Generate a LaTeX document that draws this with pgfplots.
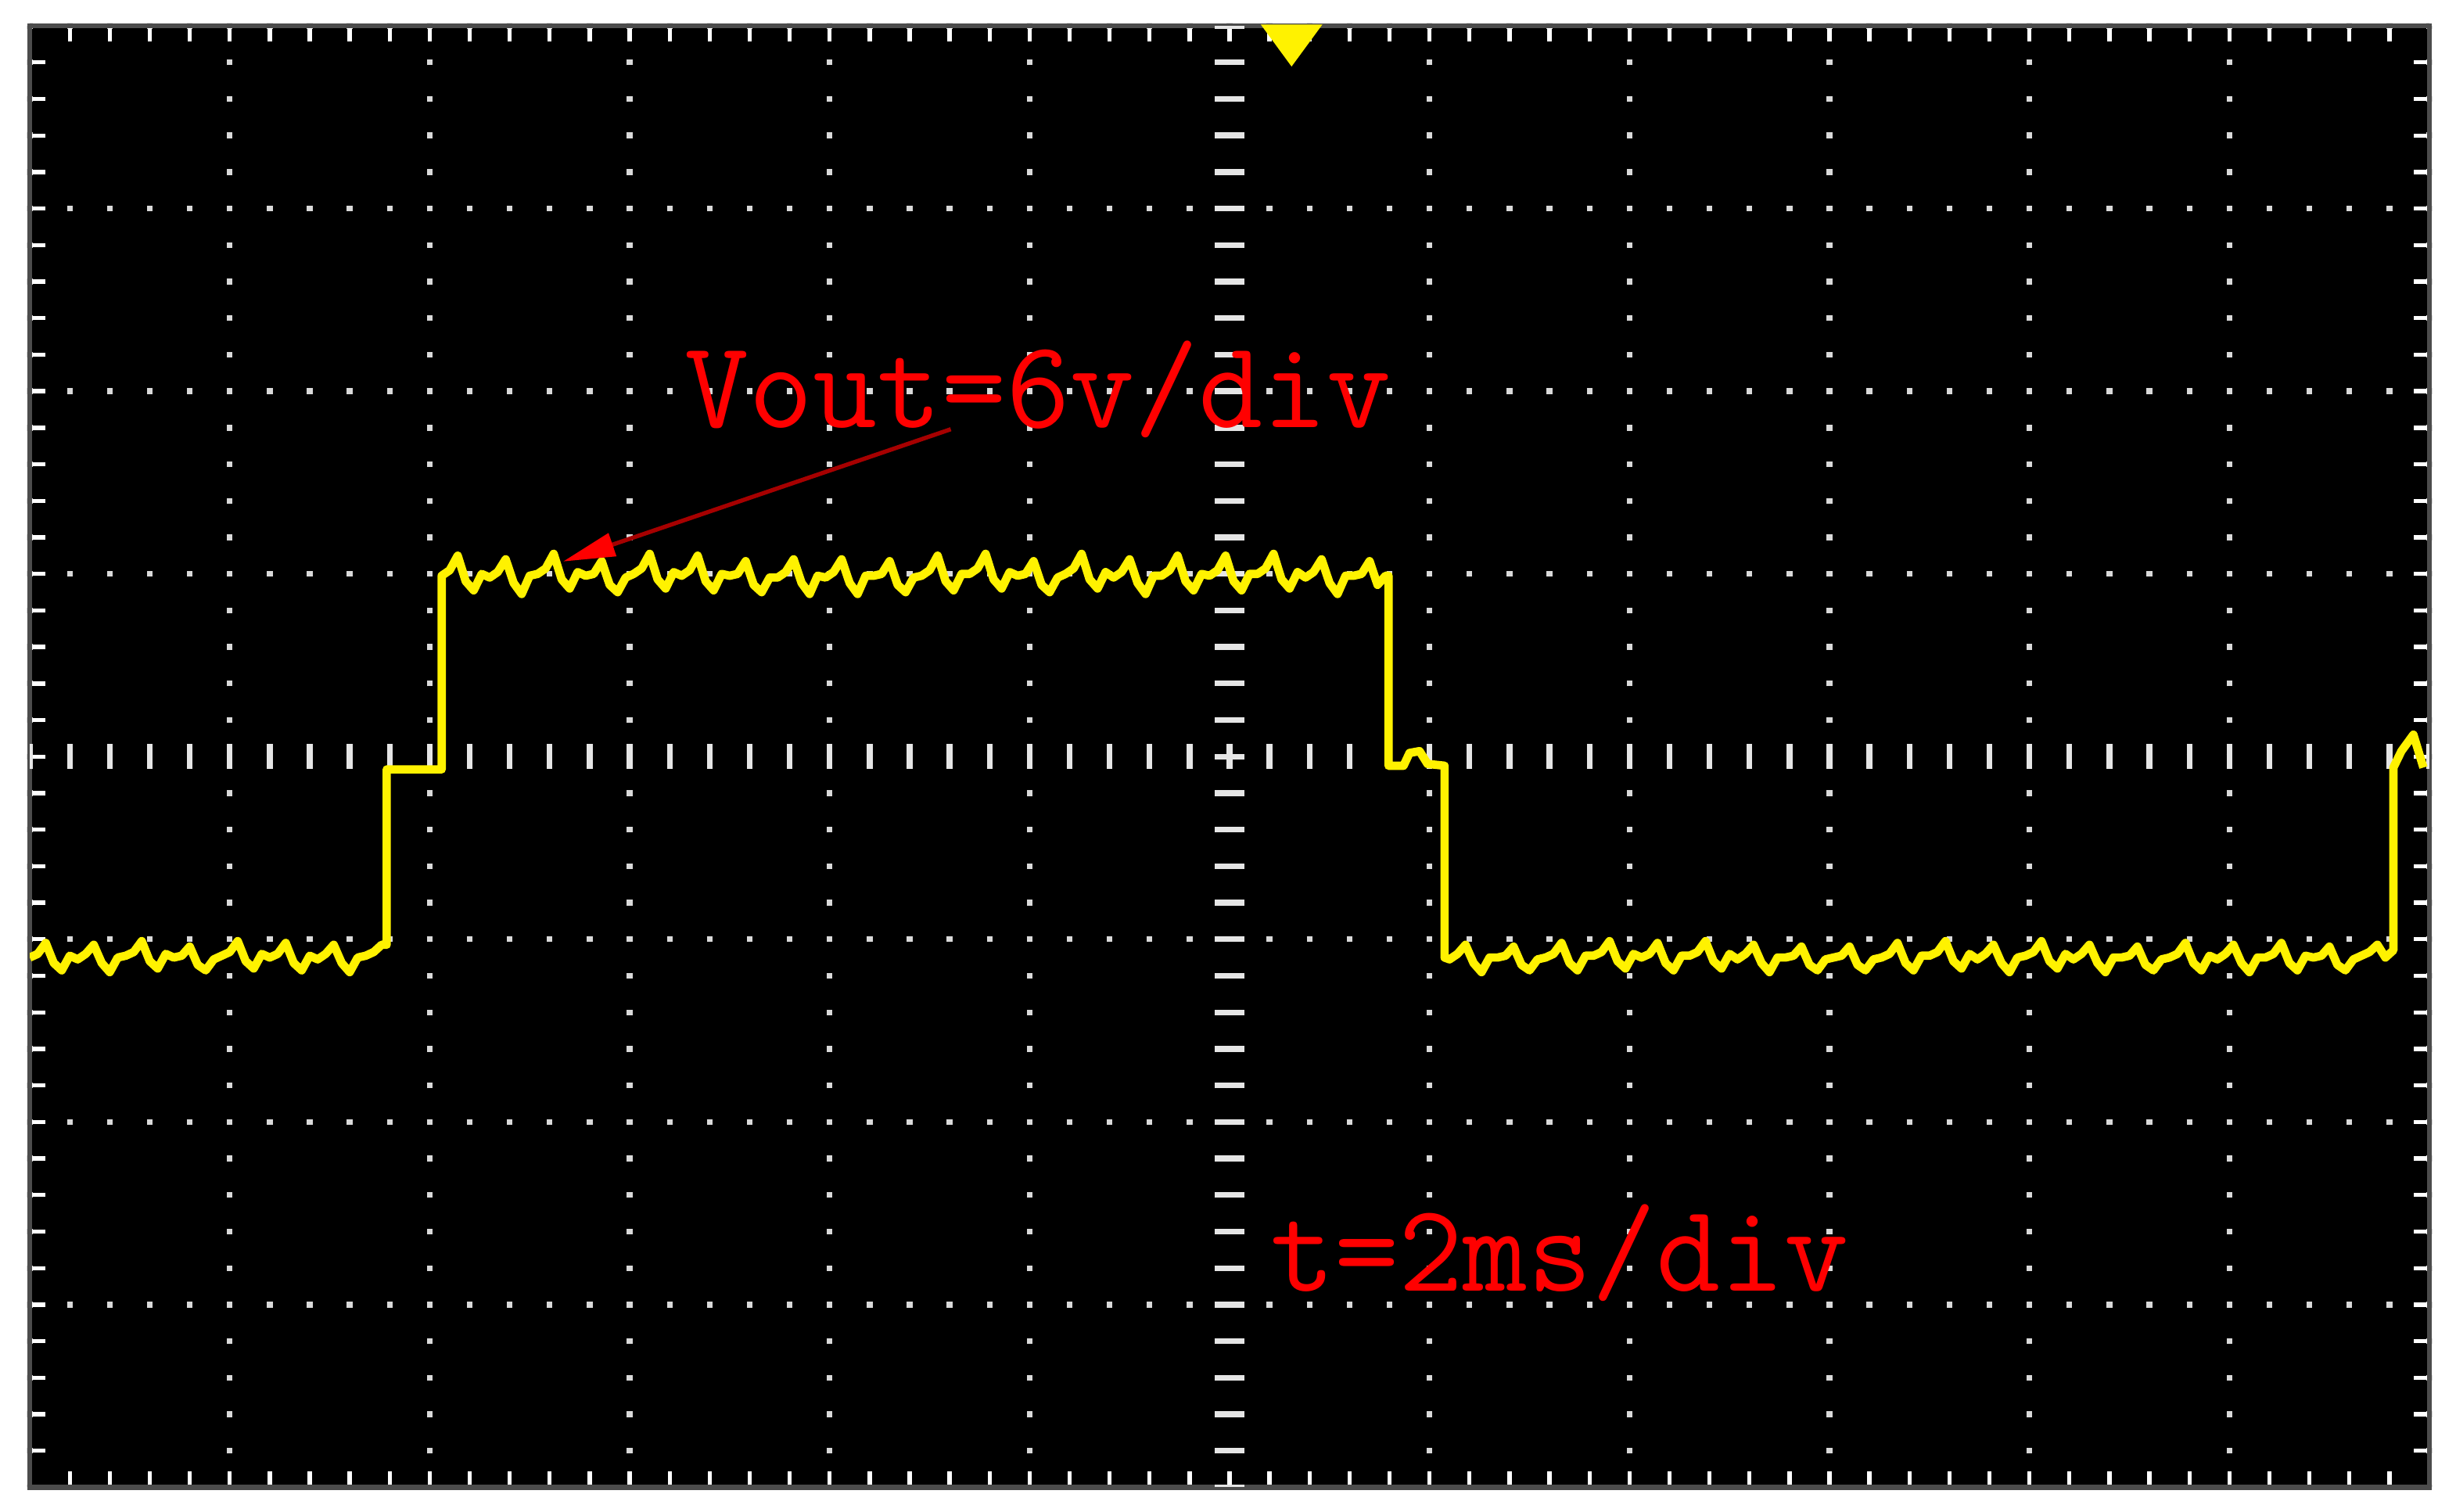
\documentclass[border=0pt]{standalone}
\usepackage{pgfplots}
\pgfplotsset{compat=1.18}
\usepackage{pgfplotstable}
\usetikzlibrary{arrows.meta}

% scope trace in screen divisions: t (12 div, 2 ms/div), v (8 div, 6 V/div)
\pgfplotstableread{
t v
0.00 -1.10
0.04 -1.08
0.08 -1.02
0.12 -1.13
0.16 -1.17
0.20 -1.09
0.24 -1.11
0.28 -1.08
0.32 -1.03
0.36 -1.13
0.40 -1.18
0.44 -1.10
0.48 -1.09
0.52 -1.07
0.56 -1.01
0.60 -1.12
0.64 -1.16
0.68 -1.08
0.72 -1.10
0.76 -1.09
0.80 -1.04
0.84 -1.14
0.88 -1.17
0.92 -1.11
0.96 -1.09
1.00 -1.07
1.04 -1.01
1.08 -1.12
1.12 -1.16
1.16 -1.08
1.20 -1.10
1.24 -1.08
1.28 -1.02
1.32 -1.13
1.36 -1.17
1.40 -1.09
1.44 -1.11
1.48 -1.08
1.52 -1.03
1.56 -1.13
1.60 -1.18
1.64 -1.10
1.68 -1.09
1.72 -1.07
1.76 -1.03
1.785 -1.03
1.785 -0.07
2.06 -0.07
2.06 0.99
2.10 1.02
2.14 1.10
2.18 0.96
2.22 0.91
2.26 1.00
2.30 0.98
2.34 1.01
2.38 1.08
2.42 0.95
2.46 0.89
2.50 0.99
2.54 1.00
2.58 1.03
2.62 1.11
2.66 0.97
2.70 0.92
2.74 1.01
2.78 0.99
2.82 1.00
2.86 1.07
2.90 0.94
2.94 0.90
2.98 0.98
3.02 1.00
3.06 1.03
3.10 1.11
3.14 0.97
3.18 0.92
3.22 1.01
3.26 0.99
3.30 1.02
3.34 1.10
3.38 0.96
3.42 0.91
3.46 1.00
3.50 0.99
3.54 1.00
3.58 1.07
3.62 0.94
3.66 0.90
3.70 0.98
3.74 0.98
3.78 1.01
3.82 1.08
3.86 0.95
3.90 0.89
3.94 0.99
3.98 0.98
4.02 1.01
4.06 1.08
4.10 0.95
4.14 0.89
4.18 0.99
4.22 0.99
4.26 1.00
4.30 1.07
4.34 0.94
4.38 0.90
4.42 0.98
4.46 0.99
4.50 1.02
4.54 1.10
4.58 0.96
4.62 0.91
4.66 1.00
4.70 1.00
4.74 1.03
4.78 1.11
4.82 0.97
4.86 0.92
4.90 1.01
4.94 0.99
4.98 1.00
5.02 1.07
5.06 0.94
5.10 0.90
5.14 0.98
5.18 1.00
5.22 1.03
5.26 1.11
5.30 0.97
5.34 0.92
5.38 1.01
5.42 0.98
5.46 1.01
5.50 1.08
5.54 0.95
5.58 0.89
5.62 0.99
5.66 0.99
5.70 1.02
5.74 1.10
5.78 0.96
5.82 0.91
5.86 1.00
5.90 0.99
5.94 1.02
5.98 1.10
6.02 0.96
6.06 0.91
6.10 1.00
6.14 1.00
6.18 1.03
6.22 1.11
6.26 0.97
6.30 0.92
6.34 1.01
6.38 0.98
6.42 1.01
6.46 1.08
6.50 0.95
6.54 0.89
6.58 0.99
6.62 0.99
6.66 1.00
6.70 1.07
6.74 0.94
6.78 0.99
6.795 0.99
6.795 -0.05
6.87 -0.05
6.90 0.02
6.95 0.03
6.99 -0.04
7.075 -0.05
7.075 -1.10
7.10 -1.11
7.14 -1.08
7.18 -1.03
7.22 -1.13
7.26 -1.18
7.30 -1.10
7.34 -1.10
7.38 -1.09
7.42 -1.04
7.46 -1.14
7.50 -1.17
7.54 -1.11
7.58 -1.10
7.62 -1.08
7.66 -1.02
7.70 -1.13
7.74 -1.17
7.78 -1.09
7.82 -1.09
7.86 -1.07
7.90 -1.01
7.94 -1.12
7.98 -1.16
8.02 -1.08
8.06 -1.10
8.10 -1.08
8.14 -1.02
8.18 -1.13
8.22 -1.17
8.26 -1.09
8.30 -1.09
8.34 -1.07
8.38 -1.01
8.42 -1.12
8.46 -1.16
8.50 -1.08
8.54 -1.11
8.58 -1.08
8.62 -1.03
8.66 -1.13
8.70 -1.18
8.74 -1.10
8.78 -1.10
8.82 -1.09
8.86 -1.04
8.90 -1.14
8.94 -1.17
8.98 -1.11
9.02 -1.10
9.06 -1.09
9.10 -1.04
9.14 -1.14
9.18 -1.17
9.22 -1.11
9.26 -1.10
9.30 -1.08
9.34 -1.02
9.38 -1.13
9.42 -1.17
9.46 -1.09
9.50 -1.09
9.54 -1.07
9.58 -1.01
9.62 -1.12
9.66 -1.16
9.70 -1.08
9.74 -1.11
9.78 -1.08
9.82 -1.03
9.86 -1.13
9.90 -1.18
9.94 -1.10
9.98 -1.09
10.02 -1.07
10.06 -1.01
10.10 -1.12
10.14 -1.16
10.18 -1.08
10.22 -1.11
10.26 -1.08
10.30 -1.03
10.34 -1.13
10.38 -1.18
10.42 -1.10
10.46 -1.10
10.50 -1.09
10.54 -1.04
10.58 -1.14
10.62 -1.17
10.66 -1.11
10.70 -1.10
10.74 -1.08
10.78 -1.02
10.82 -1.13
10.86 -1.17
10.90 -1.09
10.94 -1.11
10.98 -1.08
11.02 -1.03
11.06 -1.13
11.10 -1.18
11.14 -1.10
11.18 -1.10
11.22 -1.08
11.26 -1.02
11.30 -1.13
11.34 -1.17
11.38 -1.09
11.42 -1.10
11.46 -1.09
11.50 -1.04
11.54 -1.14
11.58 -1.17
11.62 -1.11
11.66 -1.09
11.70 -1.07
11.74 -1.03
11.78 -1.10
11.82 -1.06
11.82 -0.06
11.86 0.03
11.92 0.12
11.97 -0.06
}\trace

\begin{document}
\begin{tikzpicture}
\path[use as bounding box, fill=white] (-5.7pt,-4.65pt) rectangle (464.7pt,284.85pt);
\begin{axis}[
    at={(0pt,0pt)}, anchor=south west,
    scale only axis,
    width=459.6pt, height=279.9pt,
    xmin=0, xmax=12, ymin=-4, ymax=4,
    axis background/.style={fill=black},
    axis line style={draw=black!70, line width=1pt},
    xtick={0,...,12}, ytick={-4,...,4},
    minor x tick num=4, minor y tick num=4,
    xticklabels={}, yticklabels={},
    tick align=inside,
    tick style={white, line width=0.8pt},
    major tick length=3pt, minor tick length=3pt,
    grid=major,
    x grid style={white!85!black, line width=1.1pt,
        dash pattern=on 1.1pt off 5.8975pt, dash phase=0.55pt},
    y grid style={white!85!black, line width=1.1pt,
        dash pattern=on 1.1pt off 6.56pt, dash phase=0.55pt},
]
% centre cross of the graticule
\draw[white!90!black, line width=5.7pt, dash pattern=on 1.1pt off 5.8975pt, dash phase=0.55pt]
    (axis cs:6,-4) -- (axis cs:6,4);
\draw[white!90!black, line width=4.8pt, dash pattern=on 1.1pt off 6.56pt, dash phase=0.55pt]
    (axis cs:0,0) -- (axis cs:12,0);

\addplot[yellow, line width=1.6pt, line join=round, no markers] table[x=t, y=v] {\trace};

% trigger position marker
\addplot[only marks, mark=triangle*, mark size=5pt,
    mark options={draw=yellow, fill=yellow, rotate=180, xscale=1.27}]
    coordinates {(6.31,3.93)};

\draw[red!65!black, line width=0.8pt, -{Triangle[length=10pt, width=4.5pt, color=red]}]
    (axis cs:4.606,1.792) -- (axis cs:2.667,1.068);
\node[anchor=base west, inner sep=0pt, text=red, font=\fontsize{23.9}{24}\selectfont\ttfamily]
    at (axis cs:3.27,1.80) {Vout=6v/div};
\node[anchor=base west, inner sep=0pt, text=red, font=\fontsize{23.9}{24}\selectfont\ttfamily]
    at (axis cs:6.20,-2.925) {t=2ms/div};
\end{axis}
\end{tikzpicture}
\end{document}
